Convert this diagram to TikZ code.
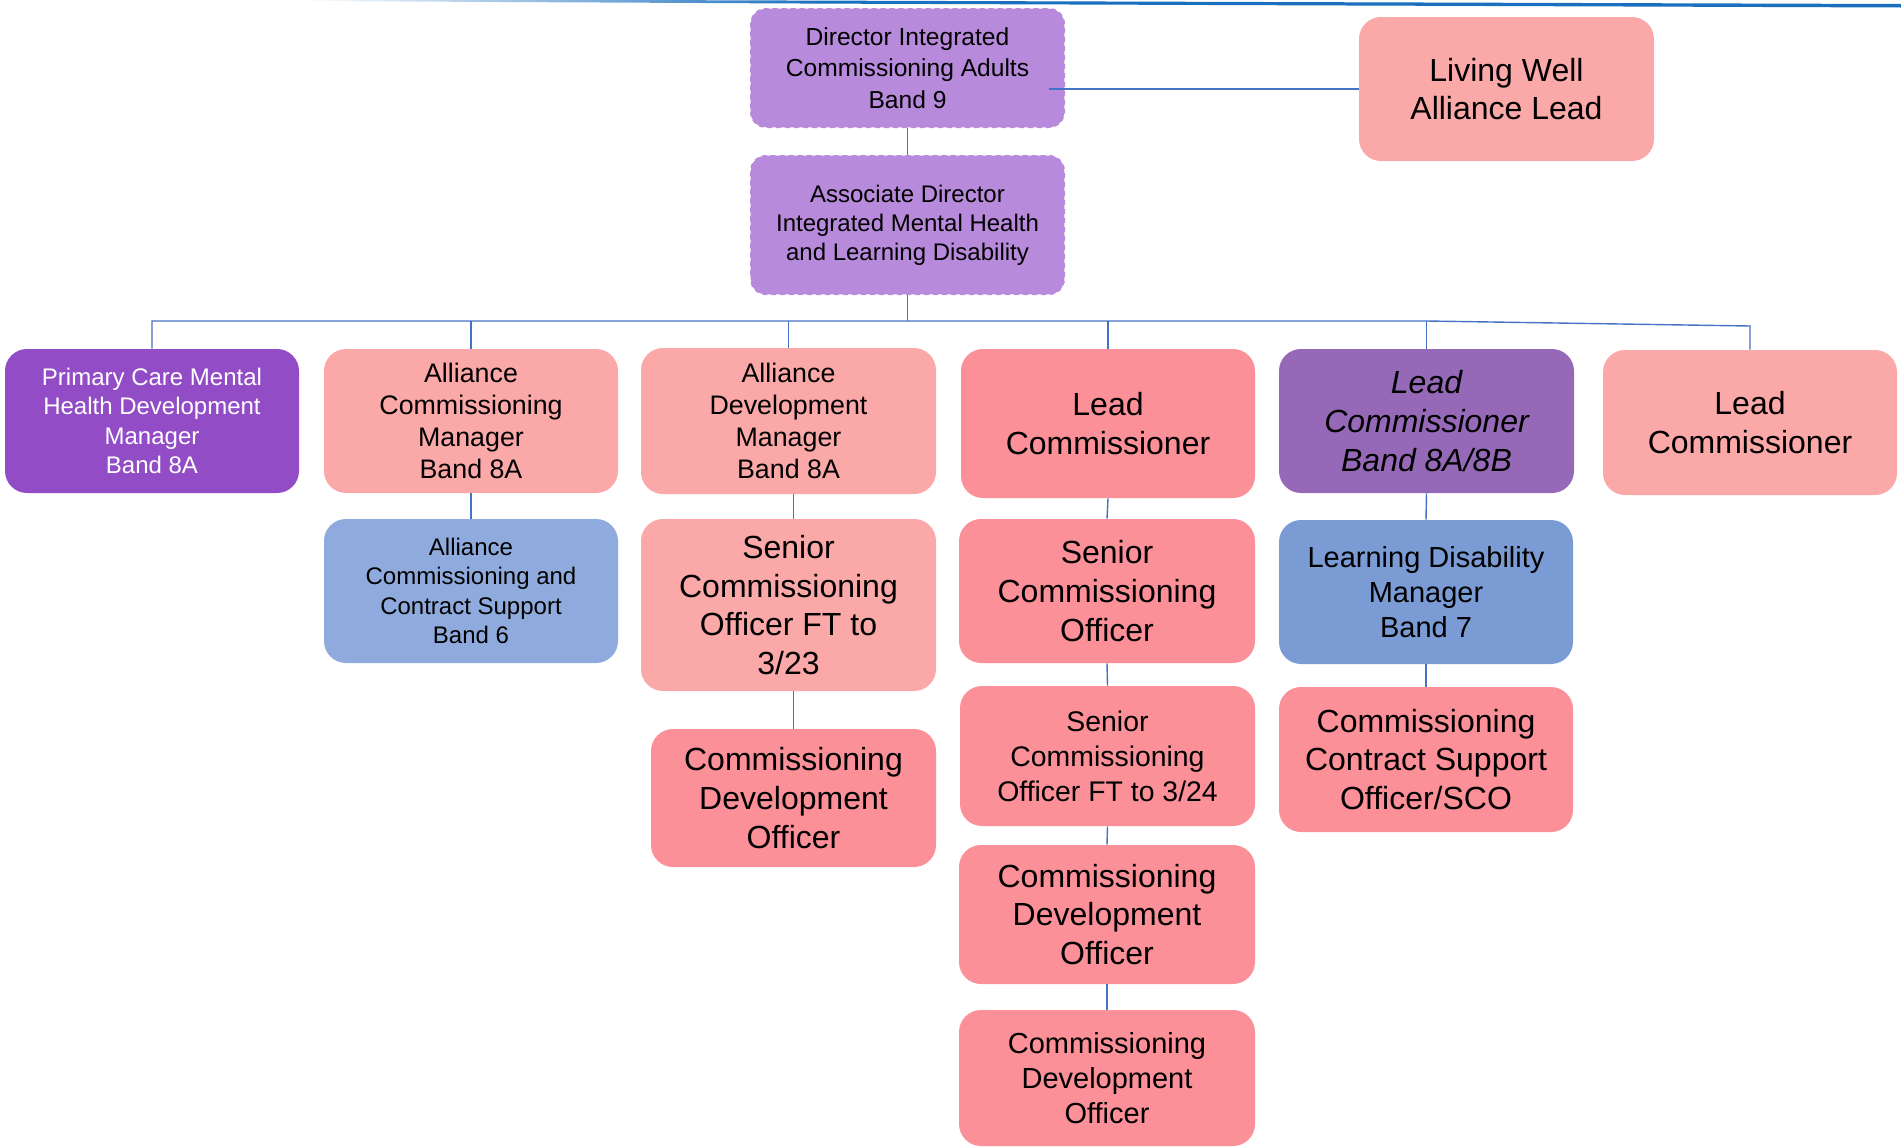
\documentclass[tikz,border=0pt]{standalone}
\usepackage{fontspec}
\setmainfont{Liberation Sans}
\definecolor{dirpurple}{HTML}{B88ADB}
\definecolor{pcpurple}{HTML}{924DC6}
\definecolor{lightpink}{HTML}{FBA8A9}
\definecolor{darkpink}{HTML}{FC9098}
\definecolor{leadpurple}{HTML}{9669B8}
\definecolor{lightblue}{HTML}{8FAADC}
\definecolor{midblue}{HTML}{7A9BD4}
\definecolor{linecol}{HTML}{4472C4}
\definecolor{topblue}{HTML}{1A6FBF}
\newcommand\orgbox[7]{\node[#6, minimum width={(#4-#2)*0.5pt}, minimum height={(#5-#3)*0.5pt}] (#1) at ({(#2+#4)/2},{(#3+#5)/2}) {#7};}
\tikzset{
  box/.style={rectangle, rounded corners=11pt, inner sep=0pt, align=center, text=black},
  dirbox/.style={box, rounded corners=8pt, fill=dirpurple},
  fA/.style={font=\fontsize{12}{14.6}\selectfont},
  fAd/.style={font=\fontsize{12.3}{15.7}\selectfont},
  fB/.style={font=\fontsize{13.4}{16}\selectfont},
  fC/.style={font=\fontsize{16}{19.4}\selectfont},
  fD/.style={font=\fontsize{14.5}{17.5}\selectfont},
  fE/.style={font=\fontsize{14.2}{17.5}\selectfont},
  conn/.style={draw=linecol, line width=0.7pt},
  dashedge/.style={draw=white, line width=1.1pt, dash pattern=on 2pt off 2.5pt}
}
\begin{document}
\begin{tikzpicture}[x=0.5pt,y=-0.5pt]
\useasboundingbox (0,0) rectangle (1901,1146);
% top rule
\shade[left color=white, right color=topblue] (300,-1) -- (820,0.6) -- (820,3.6) -- (300,1) -- cycle;
\fill[topblue] (820,0.6) -- (1901,4) -- (1901,7.5) -- (820,3.6) -- cycle;
% boxes
\orgbox{dir}{750}{8}{1065}{128}{dirbox,fAd}{Director Integrated\\Commissioning Adults\\Band 9}
\orgbox{assoc}{750}{155}{1065}{295}{dirbox,fA}{Associate Director\\Integrated Mental Health\\and Learning Disability}
\draw[dashedge, rounded corners=8pt] (dir.south west) rectangle (dir.north east);
\draw[dashedge, rounded corners=8pt] (assoc.south west) rectangle (assoc.north east);
\orgbox{lw}{1359}{17}{1654}{161}{box,fill=lightpink,fC}{Living Well\\Alliance Lead}
\orgbox{pc}{5}{349}{299}{493}{box,fill=pcpurple,fA,text=white}{Primary Care Mental\\Health Development\\Manager\\Band 8A}
\orgbox{acm}{324}{349}{618}{493}{box,fill=lightpink,fB}{Alliance\\Commissioning\\Manager\\Band 8A}
\orgbox{adm}{641}{348}{936}{494}{box,fill=lightpink,fB}{Alliance\\Development\\Manager\\Band 8A}
\orgbox{lc1}{961}{349}{1255}{498}{box,fill=darkpink,fC}{Lead\\Commissioner}
\orgbox{lc8}{1279}{349}{1574}{493}{box,fill=leadpurple,fC}{\itshape Lead\\\itshape Commissioner\\\itshape Band 8A/8B}
\orgbox{lc2}{1603}{350}{1897}{495}{box,fill=lightpink,fC}{Lead\\Commissioner}
\orgbox{accs}{324}{519}{618}{663}{box,fill=lightblue,fA}{Alliance\\Commissioning and\\Contract Support\\Band 6}
\orgbox{sco323}{641}{519}{936}{691}{box,fill=lightpink,fC}{Senior\\Commissioning\\Officer FT to\\3/23}
\orgbox{sco}{959}{519}{1255}{663}{box,fill=darkpink,fC}{Senior\\Commissioning\\Officer}
\orgbox{ldm}{1279}{520}{1573}{664}{box,fill=midblue,fD}{Learning Disability\\Manager\\Band 7}
\orgbox{cdo3}{651}{729}{936}{867}{box,fill=darkpink,fC}{Commissioning\\Development\\Officer}
\orgbox{sco324}{960}{686}{1255}{826}{box,fill=darkpink,fE}{Senior\\Commissioning\\Officer FT to 3/24}
\orgbox{ccso}{1279}{687}{1573}{832}{box,fill=darkpink,fC}{Commissioning\\Contract Support\\Officer/SCO}
\orgbox{cdoa}{959}{845}{1255}{984}{box,fill=darkpink,fC}{Commissioning\\Development\\Officer}
\orgbox{cdob}{959}{1010}{1255}{1146}{box,fill=darkpink,fD}{Commissioning\\Development\\Officer}
% connectors
\draw[conn] (dir.south) -- (assoc.north);
\draw[conn] ([xshift=-8pt]dir.east |- lw.west) -- (lw.west);
\coordinate (busL) at (pc.north |- 0,321);
\coordinate (busM) at (lc8.north |- 0,321);
\coordinate (busR) at (lc2.north |- 0,326);
\draw[conn] (assoc.south) -- (assoc.south |- busL);
\draw[conn] (pc.north) -- (busL) -- (busM) -- (busR) -- (lc2.north);
\draw[conn] (acm.north) -- (acm.north |- busL);
\draw[conn] (adm.north) -- (adm.north |- busL);
\draw[conn] (lc1.north) -- (lc1.north |- busL);
\draw[conn] (lc8.north) -- (busM);
\draw[conn] (acm.south) -- (accs.north);
\draw[conn] (cdo3.north |- adm.south) -- (cdo3.north |- sco323.north);
\draw[conn] (cdo3.north |- sco323.south) -- (cdo3.north);
\draw[conn] (lc1.south) -- (sco.north);
\draw[conn] (sco.south) -- (sco324.north);
\draw[conn] (sco324.south) -- (cdoa.north);
\draw[conn] (cdoa.south) -- (cdob.north);
\draw[conn] (lc8.south) -- (ldm.north);
\draw[conn] (ldm.south) -- (ccso.north);
\end{tikzpicture}
\end{document}
